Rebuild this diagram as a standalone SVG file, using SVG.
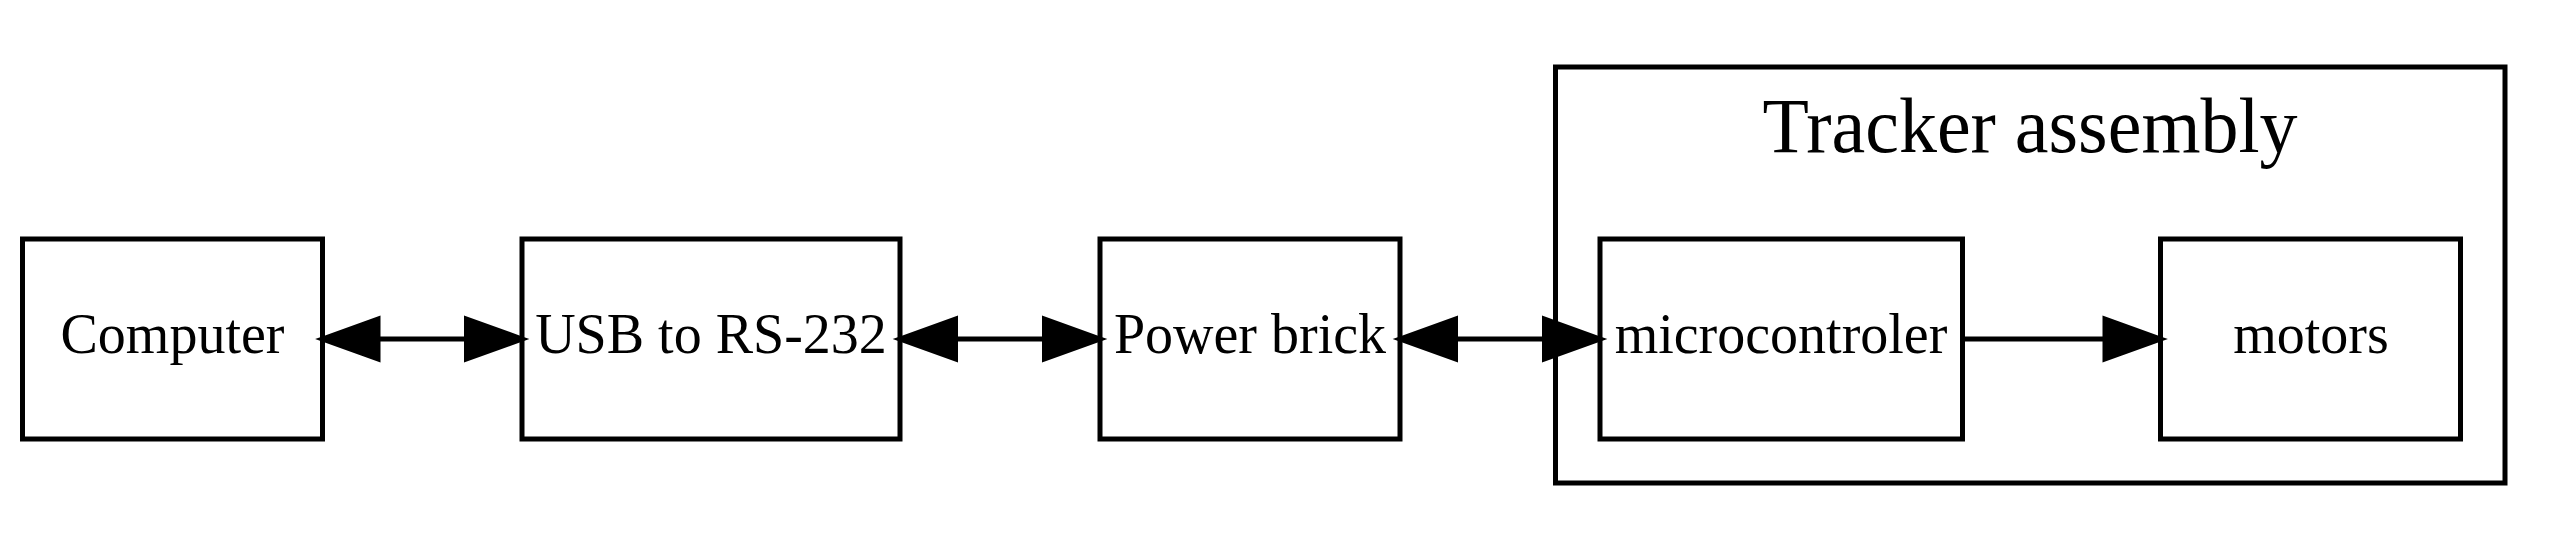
<svg xmlns="http://www.w3.org/2000/svg" width="2572" height="550" viewBox="0 0 2572 550">
<style>
.box{fill:none;stroke:#000;stroke-width:5}
.lbl{font-family:"Liberation Serif","Times New Roman",serif;font-size:56px;fill:#000;text-anchor:middle}
.title{font-family:"Liberation Serif","Times New Roman",serif;font-size:78px;fill:#000;text-anchor:middle}
.edge{stroke:#000;stroke-width:5;fill:none}
.head{fill:#000;stroke:#000;stroke-width:5}
</style>
<rect width="2572" height="550" fill="#fff"/>
<g id="cluster_tracker">
<rect class="box" x="1555.5" y="67" width="949.5" height="416"/>
<text class="title" x="2030" y="152" textLength="535" lengthAdjust="spacingAndGlyphs">Tracker assembly</text>
</g>
<g id="computer">
<rect class="box" x="22.5" y="239" width="300" height="200"/>
<text class="lbl" x="172.5" y="353">Computer</text>
</g>
<g id="usb">
<rect class="box" x="522" y="239" width="378" height="200"/>
<text class="lbl" x="711" y="353">USB to RS-232</text>
</g>
<g id="power">
<rect class="box" x="1100" y="239" width="300" height="200"/>
<text class="lbl" x="1250" y="353">Power brick</text>
</g>
<g id="micro">
<rect class="box" x="1600" y="239" width="362.5" height="200"/>
<text class="lbl" x="1781" y="353">microcontroler</text>
</g>
<g id="motors">
<rect class="box" x="2160.5" y="239" width="300" height="200"/>
<text class="lbl" x="2311" y="353">motors</text>
</g>
<g id="connectors">
<line class="edge" x1="378" y1="339" x2="466" y2="339"/>
<polygon class="head" points="322.5,339 378,319 378,359"/>
<polygon class="head" points="522,339 466.5,319 466.5,359"/>
<line class="edge" x1="955" y1="339" x2="1045" y2="339"/>
<polygon class="head" points="900,339 955.5,319 955.5,359"/>
<polygon class="head" points="1100,339 1044.5,319 1044.5,359"/>
<line class="edge" x1="1455" y1="339" x2="1545" y2="339"/>
<polygon class="head" points="1400,339 1455.5,319 1455.5,359"/>
<polygon class="head" points="1600,339 1544.5,319 1544.5,359"/>
<line class="edge" x1="1962.5" y1="339" x2="2106" y2="339"/>
<polygon class="head" points="2160.5,339 2105,319 2105,359"/>
</g>
</svg>
